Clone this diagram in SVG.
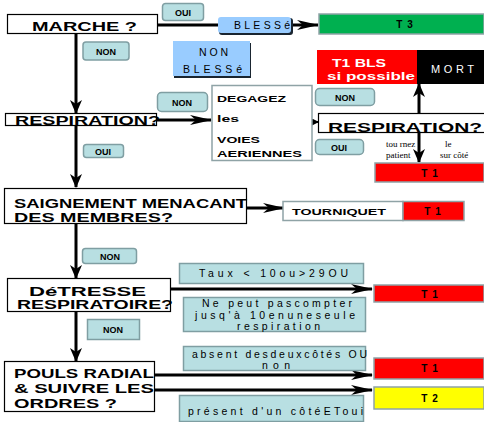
<svg xmlns="http://www.w3.org/2000/svg" width="484" height="422" viewBox="0 0 484 422">
<defs>
<style>
.q{fill:#fff;stroke:#000;stroke-width:1.2}
.qt{font-family:"Liberation Sans",Arial,sans-serif;font-weight:bold;font-size:13px;fill:#000}
.lab{fill:#b8dfe2;stroke:#7f9ea2;stroke-width:1.5}
.lt{font-family:"Liberation Sans",Arial,sans-serif;font-weight:bold;font-size:9px;fill:#000;text-anchor:middle}
.blue{fill:#99ccff}
.bt{font-family:"Liberation Sans",Arial,sans-serif;font-size:10.5px;fill:#000}
.res{stroke:#8fa3a6;stroke-width:1.5}
.rt{font-family:"Liberation Sans",Arial,sans-serif;font-weight:bold;font-size:10px;letter-spacing:1px;fill:#000;text-anchor:middle}
.tt{font-family:"Liberation Sans",Arial,sans-serif;font-size:10.5px;fill:#000}
.ln{stroke:#000;stroke-width:3;fill:none}
.ln2{stroke:#000;stroke-width:2;fill:none}
</style>
<marker id="ah" markerUnits="userSpaceOnUse" markerWidth="14" markerHeight="12" refX="13" refY="6" orient="auto"><path d="M0,0 L14,6 L0,12 L4,6 z" fill="#000"/></marker>
<marker id="ahl" markerUnits="userSpaceOnUse" markerWidth="22" markerHeight="10" refX="21" refY="5" orient="auto"><path d="M0,0 L22,5 L0,10 L6,5 z" fill="#000"/></marker>
<marker id="ahs" markerUnits="userSpaceOnUse" markerWidth="7" markerHeight="7" refX="6" refY="3.5" orient="auto"><path d="M0,0 L7,3.5 L0,7 z" fill="#000"/></marker>
</defs>
<rect width="484" height="422" fill="#fff"/>

<g id="connectors">
<line class="ln" x1="76" y1="34" x2="76" y2="113" marker-end="url(#ah)"/>
<line class="ln" x1="76" y1="126" x2="76" y2="187" marker-end="url(#ah)"/>
<line class="ln" x1="76" y1="223" x2="76" y2="278" marker-end="url(#ah)"/>
<line class="ln" x1="76" y1="312" x2="76" y2="361" marker-end="url(#ah)"/>
<line class="ln" x1="158" y1="25" x2="218" y2="25"/>
<line class="ln" x1="292" y1="25" x2="318" y2="25" marker-end="url(#ahl)"/>
<line class="ln" x1="157" y1="120" x2="211" y2="120" marker-end="url(#ahl)"/>
<line class="ln2" x1="312" y1="122" x2="318" y2="122" marker-end="url(#ahs)"/>
<line class="ln" x1="419" y1="113" x2="419" y2="84" marker-end="url(#ah)"/>
<line class="ln" x1="419" y1="133" x2="419" y2="162" marker-end="url(#ah)"/>
<line class="ln" x1="246" y1="208" x2="284" y2="208" marker-end="url(#ahl)"/>
<line class="ln" x1="170" y1="289" x2="372" y2="289" marker-end="url(#ahl)"/>
<line class="ln" x1="154" y1="375" x2="372" y2="375" marker-end="url(#ahl)"/>
<line class="ln" x1="154" y1="390" x2="372" y2="390" marker-end="url(#ahl)"/>
</g>

<g id="marche">
<rect class="q" x="7.5" y="14.5" width="150" height="19"/>
<text class="qt" x="32" y="31" font-size="12.5" textLength="105" lengthAdjust="spacingAndGlyphs">MARCHE ?</text>
</g>
<g id="oui1"><rect class="lab" x="162.5" y="3.5" width="41" height="17" rx="3"/><text class="lt" x="183" y="16">OUI</text></g>
<g id="blesse">
<rect x="219" y="18" width="74" height="17" fill="#1a2530" rx="3"/>
<rect class="blue" x="218" y="17" width="73" height="16" rx="3"/>
<text class="bt" x="234" y="29" textLength="56" lengthAdjust="spacing">BLESSé</text>
</g>
<g id="t3"><rect class="res" x="319" y="14" width="165" height="20" fill="#00b050"/><text class="rt" x="405" y="28">T 3</text></g>
<g id="non1"><rect class="lab" x="83" y="42" width="46" height="18" rx="3"/><text class="lt" x="106" y="55">NON</text></g>
<g id="nonblesse">
<rect x="174" y="43" width="77" height="35" fill="#1a2530"/>
<rect class="blue" x="173" y="41" width="77" height="35"/>
<text class="bt" x="199" y="56" textLength="29" lengthAdjust="spacing">NON</text>
<text class="bt" x="183" y="73" textLength="59" lengthAdjust="spacing">BLESSé</text>
</g>
<g id="t1bls">
<rect x="317" y="50" width="100" height="34" fill="#ff0000"/>
<text x="332" y="67" style="fill:#fff;font-family:'Liberation Sans',Arial,sans-serif;font-weight:bold;font-size:11px" textLength="54" lengthAdjust="spacingAndGlyphs">T1 BLS</text>
<text x="327" y="80" style="fill:#fff;font-family:'Liberation Sans',Arial,sans-serif;font-weight:bold;font-size:11px" textLength="88" lengthAdjust="spacingAndGlyphs">si possible</text>
</g>
<g id="mort">
<rect x="417" y="50" width="67" height="34" fill="#000"/>
<text x="431" y="73" style="fill:#fff;font-family:'Liberation Sans',Arial,sans-serif;font-size:11px" textLength="43" lengthAdjust="spacing">MORT</text>
</g>
<g id="non2"><rect class="lab" x="157.5" y="92.5" width="50" height="19" rx="4"/><text class="lt" x="182" y="106">NON</text></g>
<g id="degagez">
<rect x="212" y="85.5" width="100" height="75" fill="#fff" stroke="#8fa3a6" stroke-width="1.5"/>
<g font-family="Liberation Sans,Arial,sans-serif" font-weight="bold" font-size="9.5">
<text x="217" y="102" textLength="69" lengthAdjust="spacingAndGlyphs">DEGAGEZ</text>
<text x="217" y="122" textLength="22" lengthAdjust="spacingAndGlyphs">les</text>
<text x="217" y="143" textLength="43" lengthAdjust="spacingAndGlyphs">VOIES</text>
<text x="217" y="157" textLength="85" lengthAdjust="spacingAndGlyphs">AERIENNES</text>
</g>
</g>
<g id="non3"><rect class="lab" x="315.5" y="88.5" width="59" height="17" rx="4"/><text class="lt" x="345" y="101">NON</text></g>
<g id="respiration1">
<rect class="q" x="5.5" y="113.5" width="151" height="12"/>
<text class="qt" x="15" y="125" font-size="11" textLength="145" lengthAdjust="spacingAndGlyphs">RESPIRATION?</text>
</g>
<g id="oui2"><rect class="lab" x="83.5" y="144.5" width="40" height="13" rx="3"/><text class="lt" x="103" y="155">OUI</text></g>
<g id="respiration2">
<rect class="q" x="318.5" y="113.5" width="170" height="19"/>
<text class="qt" x="328" y="132" font-size="14" textLength="154" lengthAdjust="spacingAndGlyphs">RESPIRATION?</text>
</g>
<g id="oui3"><rect class="lab" x="315.5" y="139.5" width="48" height="15" rx="4"/><text class="lt" x="339" y="151">OUI</text></g>
<g id="tournez" font-family="Liberation Serif,Times New Roman,serif" font-size="9">
<text x="386" y="147">tou rnez</text>
<text x="445" y="147">le</text>
<text x="386" y="158">patient</text>
<text x="440" y="158">sur côté</text>
</g>
<g id="t1a"><rect class="res" x="375" y="163" width="109" height="19" fill="#ff0000"/><text class="rt" x="430" y="177">T 1</text></g>
<g id="saignement">
<rect class="q" x="4.5" y="188.5" width="242" height="35"/>
<text class="qt" x="14" y="208" font-size="14" textLength="233" lengthAdjust="spacingAndGlyphs">SAIGNEMENT MENACANT</text>
<text class="qt" x="14" y="222" font-size="14" textLength="159" lengthAdjust="spacingAndGlyphs">DES MEMBRES?</text>
</g>
<g id="tourniquet"><rect x="283" y="201.5" width="120" height="19" fill="#fff" stroke="#8fa3a6" stroke-width="1.5"/><text x="292" y="215" font-family="Liberation Sans,Arial,sans-serif" font-weight="bold" font-size="9.5" textLength="94" lengthAdjust="spacingAndGlyphs">TOURNIQUET</text></g>
<g id="t1b"><rect class="res" x="403" y="201.5" width="61" height="19" fill="#ff0000"/><text class="rt" x="433" y="215">T 1</text></g>
<g id="non4"><rect class="lab" x="82.5" y="248.5" width="54" height="15" rx="3"/><text class="lt" x="110" y="260">NON</text></g>
<g id="detresse">
<rect class="q" x="7.5" y="278.5" width="163" height="33"/>
<text class="qt" x="29" y="295.5" font-size="12" textLength="117" lengthAdjust="spacingAndGlyphs">DéTRESSE</text>
<text class="qt" x="17" y="309" font-size="12.5" textLength="156" lengthAdjust="spacingAndGlyphs">RESPIRATOIRE?</text>
</g>
<g id="taux"><rect class="lab" x="179.5" y="263.5" width="184" height="20"/><text class="tt" x="199" y="277" textLength="149" lengthAdjust="spacing">Taux &lt; 10ou&gt;29OU</text></g>
<g id="nepeut">
<rect class="lab" x="183.5" y="297.5" width="182" height="34"/>
<text class="tt" x="202" y="306.5" textLength="150" lengthAdjust="spacing">Ne peut pascompter</text>
<text class="tt" x="195" y="318.5" textLength="160" lengthAdjust="spacing">jusq'à 10enuneseule</text>
<text class="tt" x="237" y="330" textLength="83" lengthAdjust="spacing">respiration</text>
</g>
<g id="t1c"><rect class="res" x="374" y="285" width="110" height="17" fill="#ff0000"/><text class="rt" x="430" y="298">T 1</text></g>
<g id="non5"><rect class="lab" x="87.5" y="319.5" width="52" height="20"/><text class="lt" x="113" y="333">NON</text></g>
<g id="pouls">
<rect class="q" x="4.5" y="361.5" width="150" height="50"/>
<text class="qt" x="14" y="378" font-size="13.5" textLength="140" lengthAdjust="spacingAndGlyphs">POULS RADIAL</text>
<text class="qt" x="14" y="393" font-size="13.5" textLength="140" lengthAdjust="spacingAndGlyphs">&amp; SUIVRE LES</text>
<text class="qt" x="14" y="408" font-size="13.5" textLength="103" lengthAdjust="spacingAndGlyphs">ORDRES ?</text>
</g>
<g id="absent">
<rect class="lab" x="183.5" y="346.5" width="182" height="24"/>
<text class="tt" x="192" y="358" textLength="175" lengthAdjust="spacing">absent desdeuxcôtés OU</text>
<text class="tt" x="262" y="368.5" textLength="28" lengthAdjust="spacing">non</text>
</g>
<g id="present">
<rect class="lab" x="179.5" y="395.5" width="184" height="26"/>
<text class="tt" x="188" y="415" textLength="175" lengthAdjust="spacing">présent d'un côtéEToui</text>
</g>
<g id="t1d"><rect class="res" x="374" y="358" width="110" height="21" fill="#ff0000"/><text class="rt" x="430" y="372">T 1</text></g>
<g id="t2"><rect class="res" x="374" y="387" width="110" height="22" fill="#ffff00"/><text class="rt" x="430" y="402">T 2</text></g>
</svg>
